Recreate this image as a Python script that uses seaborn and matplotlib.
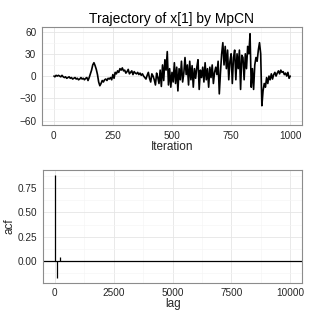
"""Trajectory and autocorrelation of x[1] under MpCN (ggplot theme_bw look)."""

import numpy as np
import pandas as pd
import matplotlib

matplotlib.use("Agg")
import matplotlib.pyplot as plt
import seaborn as sns
from matplotlib.ticker import MultipleLocator

# trajectory, read every 5 iterations
iter_step = 5
traj = [
    0, -1, 1, 0, 1, 0, -1, 1, -1, -2,
    -1, -3, -2, -1, -3, -2, -4, -3, -2, -4,
    -3, -5, -4, -2, -4, -3, -5, -3, -2, -6,
    -2, 3, 8, 15, 18, 14, 9, 2, -8, -13,
    -10, -6, -8, -5, -4, -6, -3, -4, -2, -5,
    2, -3, 5, 3, 7, 5, 10, 8, 11, 7,
    8, 4, 6, 9, 3, 5, 7, 2, 6, 4,
    3, 5, 2, 4, 1, 3, 0, -2, -4, 1,
    5, -3, -8, 3, 0, -5, -12, 4, -2, -10,
    8, -14, 15, -6, 22, 8, 33, -12, 10, -15,
    5, -8, 18, -10, 12, -20, 10, -5, 20, -8,
    4, 25, 2, 15, -12, 20, -5, 14, -15, 10,
    -3, 12, 22, -18, 8, -2, 12, -8, 18, -5,
    10, -15, 12, -2, 15, -10, 5, 12, 2, 20,
    -24, 5, 30, 45, 15, 40, 10, 35, -5, 20,
    30, -10, 25, 35, -5, 30, 10, 35, -18, 28,
    25, -5, 30, 10, 40, 30, 57, -15, 10, -18,
    15, 25, 20, 35, 45, 30, -40, -20, -10, -15,
    -2, -10, 0, -5, 3, -4, 2, 5, 0, 4,
    7, 3, 8, 5, 6, 2, 4, 0, 5, -3,
    0,
]

# autocorrelation
acf_lag = [0, 100, 200, 10000]
acf_val = [0.88, -0.17, 0.04, 0.0]

traj_df = pd.DataFrame({"iteration": np.arange(len(traj)) * iter_step, "x": traj})
traj_df.loc[0, "iteration"] = 1
acf_df = pd.DataFrame({"lag": acf_lag, "acf": acf_val})

sns.set_theme(style="white")
plt.rcParams["font.family"] = ["Liberation Sans", "DejaVu Sans"]

fig = plt.figure(figsize=(3.15, 3.15), dpi=100)
ax1 = fig.add_axes([0.133, 0.603, 0.826, 0.311])
ax2 = fig.add_axes([0.137, 0.102, 0.822, 0.358])


def bw_style(ax):
    ax.set_facecolor("white")
    ax.grid(True, which="major", color="#e5e5e5", lw=0.6)
    ax.grid(True, which="minor", color="#f4f4f4", lw=0.4)
    ax.set_axisbelow(True)
    for s in ax.spines.values():
        s.set_color("#8c8c8c")
        s.set_linewidth(0.8)
    ax.tick_params(which="major", length=2.5, width=0.6, color="#7f7f7f",
                   labelsize=7.2, labelcolor="#262626", pad=1.5)
    ax.tick_params(which="minor", length=0)


sns.lineplot(data=traj_df, x="iteration", y="x", ax=ax1, color="black", lw=1.2)
ax1.set_xlim(-50, 1050)
ax1.set_ylim(-66, 66)
ax1.xaxis.set_major_locator(MultipleLocator(250))
ax1.xaxis.set_minor_locator(MultipleLocator(125))
ax1.yaxis.set_major_locator(MultipleLocator(30))
ax1.yaxis.set_minor_locator(MultipleLocator(15))
ax1.set_xlabel("Iteration", fontsize=8.5, labelpad=0)
ax1.set_ylabel("")
ax1.set_title("Trajectory of x[1] by MpCN", fontsize=10, pad=3, color="black")
bw_style(ax1)

ax2.axhline(0, color="black", lw=0.9)
ax2.vlines(acf_df["lag"], 0, acf_df["acf"], color="black", lw=0.9)
ax2.set_xlim(-500, 10500)
ax2.set_ylim(-0.2225, 0.9325)
ax2.xaxis.set_major_locator(MultipleLocator(2500))
ax2.xaxis.set_minor_locator(MultipleLocator(1250))
ax2.yaxis.set_major_locator(MultipleLocator(0.25))
ax2.yaxis.set_minor_locator(MultipleLocator(0.125))
ax2.yaxis.set_major_formatter(matplotlib.ticker.FormatStrFormatter("%.2f"))
ax2.set_xlabel("lag", fontsize=8.5, labelpad=0)
ax2.set_ylabel("acf", fontsize=8.5, labelpad=2)
bw_style(ax2)

fig.savefig("out.png", dpi=100, facecolor="white")
